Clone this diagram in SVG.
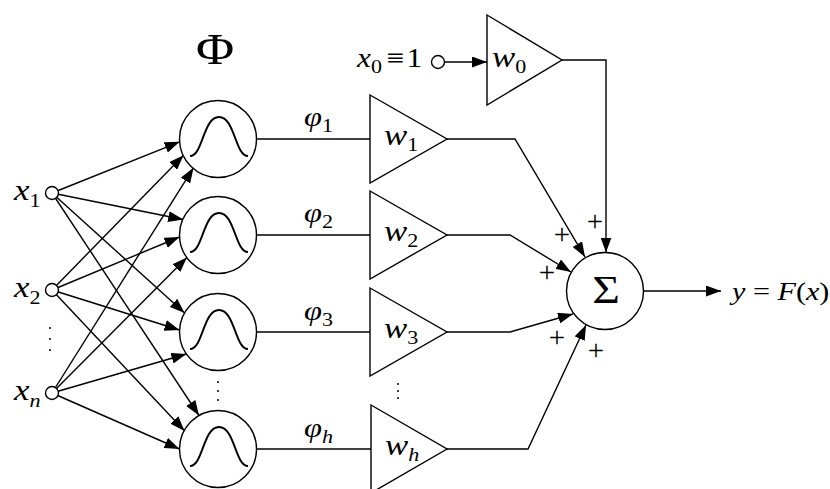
<svg xmlns="http://www.w3.org/2000/svg" width="830" height="489" viewBox="0 0 830 489">
<style>
.ln{stroke:#000;stroke-width:1.4;fill:none}
.nd{stroke:#000;stroke-width:1.4;fill:#fff}
.cv{stroke:#000;stroke-width:2;fill:none}
</style>
<defs>
<marker id="ah" markerUnits="userSpaceOnUse" markerWidth="15" markerHeight="11" refX="15" refY="5.5" orient="auto">
<path d="M0,0 L15,5.5 L0,11 z" fill="#000"/>
</marker>
<path id="bell" d="M-28,17 C-15,17 -15,-22 1,-22 C17,-22 17,17 30,17" class="cv"/>
</defs>
<rect width="830" height="489" fill="#fff"/>

<g id="connectors">
<g class="ln" marker-end="url(#ah)">
<line x1="52" y1="193" x2="179.7" y2="141.8"/>
<line x1="52" y1="193" x2="183.2" y2="219.5"/>
<line x1="52" y1="193" x2="184.6" y2="312.9"/>
<line x1="52" y1="193" x2="199" y2="415.5"/>
<line x1="52" y1="290" x2="183.6" y2="155.2"/>
<line x1="52" y1="290" x2="179.5" y2="237"/>
<line x1="52" y1="290" x2="179.5" y2="330"/>
<line x1="52" y1="290" x2="184.6" y2="430.9"/>
<line x1="52" y1="393" x2="193.5" y2="167.8"/>
<line x1="52" y1="393" x2="186.9" y2="257.6"/>
<line x1="52" y1="393" x2="186.4" y2="354"/>
<line x1="52" y1="393" x2="179.5" y2="449"/>
<line x1="445" y1="62" x2="487" y2="62"/>
<path d="M447,139 H515 L585,257"/>
<path d="M447,235 H510 L571,272"/>
<path d="M447,332 H510 L573,314"/>
<path d="M447,449 H528 L586,325"/>
<path d="M562,60 H606 V252.5"/>
<line x1="643.5" y1="291" x2="721" y2="291"/>
</g>
<g class="ln">
<line x1="256" y1="139" x2="370" y2="139"/>
<line x1="256" y1="235" x2="370" y2="235"/>
<line x1="256" y1="332" x2="370" y2="332"/>
<line x1="256" y1="449" x2="371" y2="449"/>
</g>
</g>

<g font-family="Liberation Serif, Times New Roman, serif" fill="#000" font-size="30">

<g id="inputs">
<circle class="nd" cx="52" cy="193" r="6.5"/>
<circle class="nd" cx="52" cy="290" r="6.5"/>
<circle class="nd" cx="52" cy="393" r="6.5"/>
<text font-style="italic" transform="translate(14,200) scale(1.16,1)">x<tspan font-size="19" font-style="normal" dy="7">1</tspan></text>
<text font-style="italic" transform="translate(14,297) scale(1.16,1)">x<tspan font-size="19" font-style="normal" dy="7">2</tspan></text>
<text font-style="italic" transform="translate(14,400) scale(1.16,1)">x<tspan font-size="19" dy="7">n</tspan></text>
<circle cx="50" cy="328" r="1"/><circle cx="50" cy="339" r="1"/><circle cx="50" cy="350" r="1"/>
</g>

<g id="phi-label">
<text font-size="45" text-anchor="middle" transform="translate(215,64) scale(1.16,1)">Φ</text>
</g>

<g id="rbf1"><circle class="nd" cx="218" cy="139" r="38.5"/><use href="#bell" x="218" y="139"/></g>
<g id="rbf2"><circle class="nd" cx="218" cy="235" r="38.5"/><use href="#bell" x="218" y="235"/></g>
<g id="rbf3"><circle class="nd" cx="218" cy="332" r="38.5"/><use href="#bell" x="218" y="332"/></g>
<g id="rbf-dots"><circle cx="218" cy="382" r="1"/><circle cx="218" cy="391" r="1"/><circle cx="218" cy="400" r="1"/></g>
<g id="rbfh"><circle class="nd" cx="218" cy="449" r="38.5"/><use href="#bell" x="218" y="449"/></g>

<g id="phi-outputs" font-size="28" font-style="italic">
<text transform="translate(304,126) scale(1.16,1)">φ<tspan font-size="19" font-style="normal" dy="6">1</tspan></text>
<text transform="translate(304,222) scale(1.16,1)">φ<tspan font-size="19" font-style="normal" dy="6">2</tspan></text>
<text transform="translate(304,320) scale(1.16,1)">φ<tspan font-size="19" font-style="normal" dy="6">3</tspan></text>
<text transform="translate(304,437) scale(1.16,1)">φ<tspan font-size="19" dy="6">h</tspan></text>
</g>

<g id="w1"><path class="nd" d="M370,95 L447,139 L370,183 z"/><text font-style="italic" transform="translate(384,145) scale(1.16,1)">w<tspan font-size="19" font-style="normal" dy="6">1</tspan></text></g>
<g id="w2"><path class="nd" d="M370,191 L447,235 L370,279 z"/><text font-style="italic" transform="translate(384,241) scale(1.16,1)">w<tspan font-size="19" font-style="normal" dy="6">2</tspan></text></g>
<g id="w3"><path class="nd" d="M370,288 L447,332 L370,376 z"/><text font-style="italic" transform="translate(384,338) scale(1.16,1)">w<tspan font-size="19" font-style="normal" dy="6">3</tspan></text></g>
<g id="w-dots"><circle cx="398" cy="384" r="1"/><circle cx="398" cy="391" r="1"/><circle cx="398" cy="398" r="1"/></g>
<g id="wh"><path class="nd" d="M371,405 L447,449 L371,493 z"/><text font-style="italic" transform="translate(385,455) scale(1.16,1)">w<tspan font-size="19" dy="6">h</tspan></text></g>

<g id="bias">
<text font-size="27" font-style="italic" transform="translate(357,67) scale(1.16,1)">x<tspan font-size="19" font-style="normal" dy="6">0</tspan><tspan font-style="normal" dy="-6" dx="4">≡</tspan><tspan font-style="normal" dx="2">1</tspan></text>
<circle class="nd" cx="438" cy="62" r="6.5"/>
</g>
<g id="w0"><path class="nd" d="M487,15 L562,60 L487,105 z"/><text font-style="italic" transform="translate(492,67) scale(1.16,1)">w<tspan font-size="19" font-style="normal" dy="6">0</tspan></text></g>

<g id="sum">
<circle class="nd" cx="605" cy="291" r="38.5"/>
<text font-size="41" text-anchor="middle" transform="translate(606,303) scale(1.16,1)">Σ</text>
</g>

<g id="signs" font-size="29" text-anchor="middle">
<text x="562" y="244">+</text>
<text x="595" y="231">+</text>
<text x="547" y="282">+</text>
<text x="557" y="347">+</text>
<text x="596" y="360">+</text>
</g>

<g id="output">
<text font-size="26" transform="translate(732,300) scale(1.16,1)"><tspan font-style="italic">y</tspan> = <tspan font-style="italic">F</tspan>(<tspan font-style="italic">x</tspan>)</text>
</g>
</g>
</svg>
